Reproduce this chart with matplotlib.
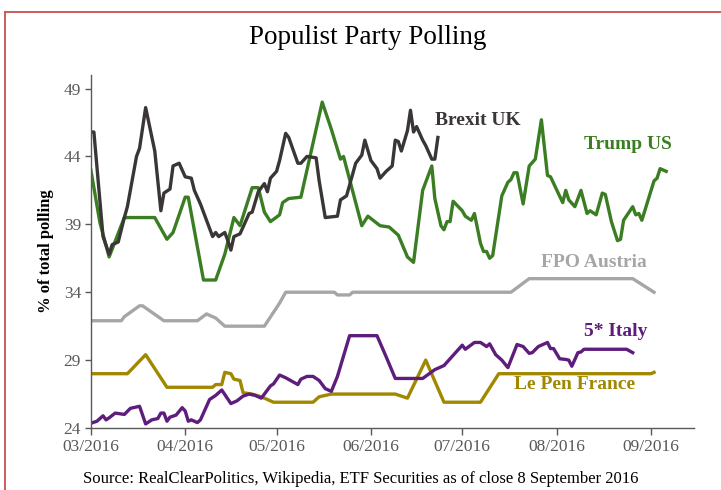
import pandas as pd
import matplotlib
matplotlib.use("Agg")
from matplotlib import pyplot as plt
from matplotlib import dates as mdates
from matplotlib.lines import Line2D

# polling, % of total
brexit_dates = ["03-01", "03-02", "03-05", "03-07", "03-08", "03-10", "03-12", "03-13", "03-16", "03-17",
                "03-19", "03-22", "03-24", "03-25", "03-27", "03-28", "03-30", "04-01", "04-03", "04-04",
                "04-06", "04-10", "04-11", "04-12", "04-14", "04-15", "04-16", "04-17", "04-19", "04-22",
                "04-23", "04-25", "04-27", "04-28", "04-29", "05-01", "05-02", "05-04", "05-05", "05-08",
                "05-09", "05-11", "05-14", "05-15", "05-17", "05-21", "05-22", "05-24", "05-26", "05-27",
                "05-29", "05-30", "06-01", "06-03", "06-04", "06-06", "06-08", "06-09", "06-10", "06-11",
                "06-13", "06-14", "06-15", "06-16", "06-18", "06-19", "06-21", "06-22", "06-23"]
brexit_vals = [45.8, 45.8, 38.1, 36.8, 37.5, 37.7, 39.5, 40.3, 44.0, 44.6,
               47.6, 44.4, 40.0, 41.3, 41.6, 43.3, 43.5, 42.5, 42.4, 41.5,
               40.5, 38.1, 38.4, 38.1, 38.4, 37.8, 37.1, 38.1, 38.3, 39.8,
               39.9, 41.4, 42.0, 41.4, 42.4, 42.9, 43.7, 45.7, 45.4, 43.5,
               43.5, 44.0, 43.9, 42.2, 39.5, 39.6, 40.8, 41.1, 42.7, 43.5,
               44.1, 45.2, 43.7, 43.1, 42.4, 42.9, 43.3, 45.2, 45.1, 44.4,
               45.9, 47.4, 45.8, 46.2, 45.2, 44.8, 43.8, 43.8, 45.4]

trump_dates = ["03-01", "03-04", "03-07", "03-12", "03-22", "03-26", "03-28", "04-01", "04-02", "04-07",
               "04-11", "04-14", "04-17", "04-19", "04-23", "04-25", "04-27", "04-29", "05-02", "05-03",
               "05-05", "05-09", "05-16", "05-19", "05-22", "05-23", "05-29", "05-31", "06-04", "06-07",
               "06-10", "06-13", "06-15", "06-18", "06-21", "06-22", "06-24", "06-25", "06-26", "06-27",
               "06-28", "07-01", "07-02", "07-04", "07-05", "07-07", "07-08", "07-09", "07-10", "07-11",
               "07-14", "07-16", "07-17", "07-18", "07-19", "07-21", "07-23", "07-25", "07-27", "07-29",
               "07-30", "08-03", "08-04", "08-05", "08-07", "08-09", "08-11", "08-12", "08-14", "08-16",
               "08-17", "08-19", "08-21", "08-22", "08-23", "08-26", "08-27", "08-28", "08-29", "09-02",
               "09-03", "09-04", "09-05", "09-06"]
trump_vals = [43.0, 39.1, 36.6, 39.5, 39.5, 37.9, 38.4, 41.0, 41.0, 34.9,
              34.9, 36.8, 39.5, 38.9, 41.7, 41.7, 39.9, 39.2, 39.7, 40.6,
              40.9, 41.0, 48.0, 46.0, 43.8, 44.0, 38.9, 39.6, 38.9, 38.8,
              38.2, 36.6, 36.2, 41.5, 43.3, 40.9, 38.9, 38.6, 39.2, 39.2,
              40.7, 40.0, 39.6, 39.3, 39.8, 37.6, 37.0, 37.0, 36.5, 36.7,
              41.1, 42.1, 42.3, 42.8, 42.8, 40.5, 43.3, 43.8, 46.7, 42.6,
              42.5, 40.6, 41.5, 40.8, 40.3, 41.5, 39.8, 40.0, 39.7, 41.3,
              41.2, 39.2, 37.8, 37.9, 39.3, 40.3, 39.7, 39.8, 39.3, 42.2,
              42.4, 43.1, 43.0, 42.9]

fpo_dates = ["03-01", "03-11", "03-12", "03-17", "03-18", "03-25", "04-05", "04-08", "04-09", "04-11",
             "04-14", "04-27", "05-02", "05-04", "05-20", "05-21", "05-25", "05-26", "07-17", "07-23",
             "08-26", "09-02"]
fpo_vals = [31.9, 31.9, 32.2, 33.0, 33.0, 31.9, 31.9, 32.4, 32.3, 32.1,
            31.5, 31.5, 33.2, 34.0, 34.0, 33.8, 33.8, 34.0, 34.0, 35.0,
            35.0, 34.0]

lepen_dates = ["03-01", "03-13", "03-19", "03-26", "04-10", "04-11", "04-13", "04-14", "04-16", "04-17",
               "04-19", "04-20", "04-23", "04-26", "04-30", "05-13", "05-15", "05-19", "06-09", "06-13",
               "06-19", "06-25", "07-07", "07-13", "09-01", "09-02"]
lepen_vals = [28.0, 28.0, 29.4, 27.0, 27.0, 27.2, 27.2, 28.1, 28.0, 27.6,
              27.5, 26.6, 26.5, 26.3, 25.9, 25.9, 26.3, 26.5, 26.5, 26.2,
              29.0, 25.9, 25.9, 28.0, 28.0, 28.1]

italy_dates = ["03-01", "03-03", "03-05", "03-06", "03-07", "03-09", "03-12", "03-14", "03-17", "03-19",
               "03-21", "03-23", "03-24", "03-25", "03-26", "03-27", "03-29", "03-31", "04-01", "04-02",
               "04-03", "04-05", "04-06", "04-09", "04-10", "04-11", "04-13", "04-16", "04-18", "04-20",
               "04-22", "04-24", "04-26", "04-29", "04-30", "05-02", "05-04", "05-08", "05-09", "05-11",
               "05-13", "05-15", "05-17", "05-19", "05-21", "05-25", "06-03", "06-06", "06-09", "06-18",
               "06-22", "06-25", "06-29", "07-01", "07-02", "07-05", "07-07", "07-09", "07-10", "07-12",
               "07-14", "07-16", "07-19", "07-21", "07-23", "07-24", "07-26", "07-29", "07-30", "07-31",
               "08-02", "08-04", "08-05", "08-06", "08-08", "08-09", "08-10", "08-24", "08-26"]
italy_vals = [24.35, 24.5, 24.9, 24.6, 24.75, 25.1, 25.0, 25.45, 25.6, 24.3,
              24.6, 24.7, 25.1, 25.1, 24.5, 24.8, 24.95, 25.5, 25.25, 24.5,
              24.6, 24.4, 24.6, 26.1, 26.25, 26.4, 26.8, 25.8, 26.0, 26.35,
              26.5, 26.4, 26.2, 27.1, 27.25, 27.9, 27.7, 27.2, 27.6, 27.8,
              27.8, 27.5, 26.9, 26.7, 27.8, 30.8, 30.8, 29.25, 27.65, 27.65,
              28.3, 28.6, 29.6, 30.1, 29.8, 30.3, 30.3, 30.0, 30.2, 29.4,
              29.0, 28.45, 30.15, 30.0, 29.5, 29.55, 30.0, 30.3, 29.85, 29.85,
              29.1, 29.05, 29.0, 28.55, 29.55, 29.6, 29.8, 29.8, 29.55]

month_ticks = ["2016-03-01", "2016-04-01", "2016-05-01", "2016-06-01",
               "2016-07-01", "2016-08-01", "2016-09-01"]
y_ticks = [24, 29, 34, 39, 44, 49]


def to_dates(lst):
    return pd.to_datetime(["2016-" + d for d in lst])


serif = "Liberation Serif"

fig = plt.figure(figsize=(7.21, 4.90), dpi=100)
ax = fig.add_axes([0.126, 0.1265, 0.836, 0.7205])

lw = 2.4
ax.plot(to_dates(fpo_dates), fpo_vals, color="#a6a6a6", lw=lw)
ax.plot(to_dates(lepen_dates), lepen_vals, color="#a08800", lw=lw)
ax.plot(to_dates(italy_dates), italy_vals, color="#5e1d7c", lw=lw)
ax.plot(to_dates(trump_dates), trump_vals, color="#3b7d22", lw=lw)
ax.plot(to_dates(brexit_dates), brexit_vals, color="#3a3636", lw=lw)

ax.set_xlim(pd.Timestamp("2016-03-01"), pd.Timestamp("2016-09-15"))
ax.set_ylim(24, 50)
ax.set_xticks(pd.to_datetime(month_ticks))
ax.xaxis.set_major_formatter(mdates.DateFormatter("%m/%Y"))
ax.set_yticks(y_ticks)

for s in ["top", "right"]:
    ax.spines[s].set_visible(False)
for s in ["left", "bottom"]:
    ax.spines[s].set_color("#595959")
    ax.spines[s].set_linewidth(1.0)
ax.tick_params(axis="x", length=5, width=1, color="#595959", labelcolor="#595959",
               labelsize=12.5, pad=3)
ax.tick_params(axis="y", length=4, width=1, color="#595959", labelcolor="#595959",
               labelsize=12.5, pad=3)
for lab in ax.get_xticklabels() + ax.get_yticklabels():
    lab.set_fontfamily(serif)

ax.set_ylabel("% of total polling", fontfamily=serif, fontweight="bold",
              fontsize=12, labelpad=7)

# series labels
lab_kw = dict(fontfamily=serif, fontweight="bold", fontsize=14, va="center")
ax.text(pd.Timestamp("2016-06-22"), 46.65, "Brexit UK", color="#3a3636", **lab_kw)
ax.text(pd.Timestamp("2016-08-10"), 44.9, "Trump US", color="#3b7d22", **lab_kw)
ax.text(pd.Timestamp("2016-07-27"), 36.2, "FPO Austria", color="#a6a6a6", **lab_kw)
ax.text(pd.Timestamp("2016-08-10"), 31.1, "5* Italy", color="#5e1d7c", **lab_kw)
ax.text(pd.Timestamp("2016-07-18"), 27.2, "Le Pen France", color="#a08800", **lab_kw)

fig.text(0.510, 0.924, "Populist Party Polling", ha="center", va="center",
         fontfamily=serif, fontsize=19.5)
fig.text(0.5, 0.022, "Source: RealClearPolitics, Wikipedia, ETF Securities as of close 8 September 2016",
         ha="center", va="center", fontfamily=serif, fontsize=12)

# red frame around the slide
fig.add_artist(Line2D([0.0076, 0.0076], [0.0, 0.9745], transform=fig.transFigure,
                      color="#c9504f", lw=1.3))
fig.add_artist(Line2D([0.0076, 1.0], [0.9745, 0.9745], transform=fig.transFigure,
                      color="#c9504f", lw=1.3))

fig.savefig("out.png", dpi=100)
